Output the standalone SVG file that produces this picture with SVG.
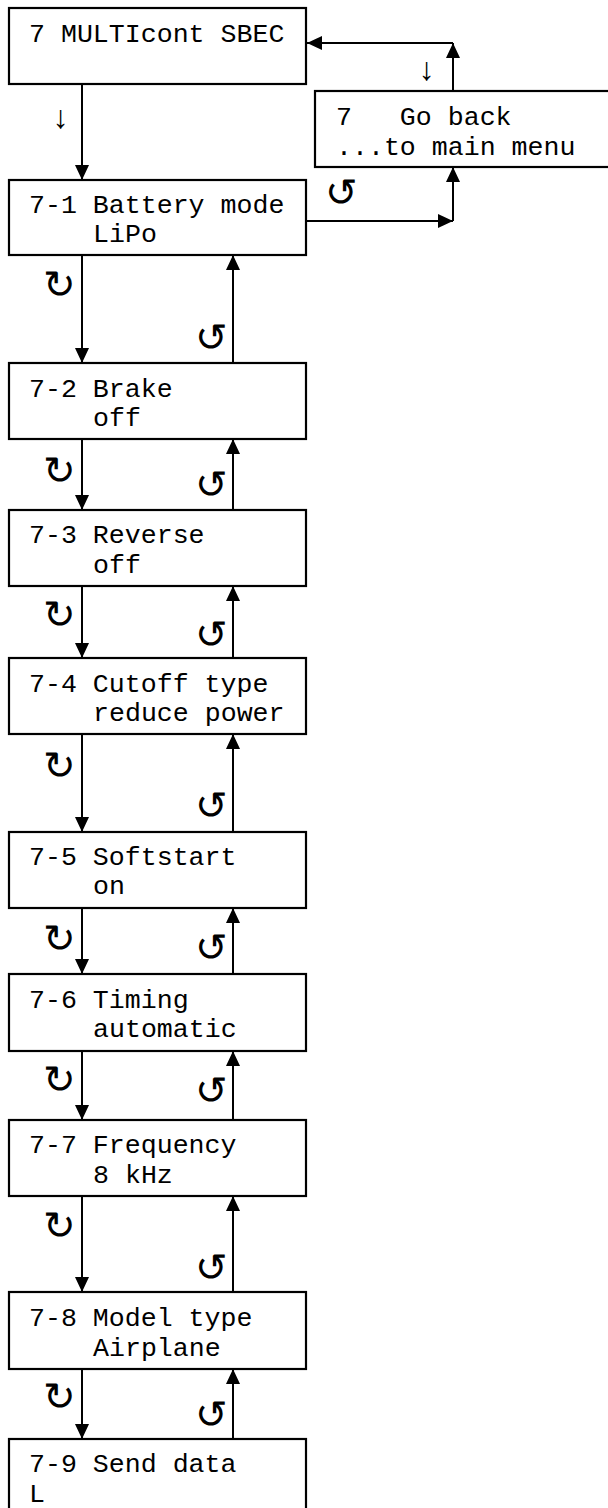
<svg xmlns="http://www.w3.org/2000/svg" width="608" height="1508" viewBox="0 0 608 1508">
<style>
.box{fill:#fff;stroke:#000;stroke-width:2.2}
.t{font-family:"Liberation Mono","Courier New",monospace;font-size:26.6px;fill:#000}
.c{stroke:#000;stroke-width:2;fill:none}
.sym{font-family:"DejaVu Sans",sans-serif;font-size:39px;font-weight:200;fill:#000}
.dn{font-family:"Liberation Mono","DejaVu Sans Mono",monospace;font-size:32px;fill:#000}
</style>
<defs>
<marker id="ah" markerUnits="userSpaceOnUse" markerWidth="16" markerHeight="16" refX="15" refY="7" orient="auto">
<path d="M0,0 L15,7 L0,14 z" fill="#000"/>
</marker>
</defs>
<rect width="608" height="1508" fill="#fff"/>
<g id="connectors">
<line class="c" x1="82" y1="84" x2="82" y2="180" marker-end="url(#ah)"/>
<line class="c" x1="453" y1="91" x2="453" y2="43" marker-end="url(#ah)"/>
<line class="c" x1="453" y1="43" x2="307" y2="43" marker-end="url(#ah)"/>
<line class="c" x1="306" y1="221" x2="453" y2="221" marker-end="url(#ah)"/>
<line class="c" x1="453" y1="221" x2="453" y2="167" marker-end="url(#ah)"/>
<line class="c" x1="82" y1="255" x2="82" y2="363" marker-end="url(#ah)"/>
<line class="c" x1="233" y1="363" x2="233" y2="255" marker-end="url(#ah)"/>
<line class="c" x1="82" y1="439" x2="82" y2="510" marker-end="url(#ah)"/>
<line class="c" x1="233" y1="510" x2="233" y2="439" marker-end="url(#ah)"/>
<line class="c" x1="82" y1="586" x2="82" y2="658" marker-end="url(#ah)"/>
<line class="c" x1="233" y1="658" x2="233" y2="586" marker-end="url(#ah)"/>
<line class="c" x1="82" y1="734" x2="82" y2="832" marker-end="url(#ah)"/>
<line class="c" x1="233" y1="832" x2="233" y2="734" marker-end="url(#ah)"/>
<line class="c" x1="82" y1="908" x2="82" y2="974" marker-end="url(#ah)"/>
<line class="c" x1="233" y1="974" x2="233" y2="908" marker-end="url(#ah)"/>
<line class="c" x1="82" y1="1051" x2="82" y2="1120" marker-end="url(#ah)"/>
<line class="c" x1="233" y1="1120" x2="233" y2="1051" marker-end="url(#ah)"/>
<line class="c" x1="82" y1="1196" x2="82" y2="1292" marker-end="url(#ah)"/>
<line class="c" x1="233" y1="1292" x2="233" y2="1196" marker-end="url(#ah)"/>
<line class="c" x1="82" y1="1369" x2="82" y2="1439" marker-end="url(#ah)"/>
<line class="c" x1="233" y1="1439" x2="233" y2="1369" marker-end="url(#ah)"/>
<text class="dn" x="51" y="128">↓</text>
<text class="dn" x="417" y="80">↓</text>
<text class="sym" x="325" y="206">↺</text>
<text class="sym" x="43" y="298">↻</text>
<text class="sym" x="195" y="351">↺</text>
<text class="sym" x="43" y="484">↻</text>
<text class="sym" x="195" y="498">↺</text>
<text class="sym" x="43" y="628">↻</text>
<text class="sym" x="195" y="648">↺</text>
<text class="sym" x="43" y="779">↻</text>
<text class="sym" x="195" y="819">↺</text>
<text class="sym" x="43" y="952">↻</text>
<text class="sym" x="195" y="961">↺</text>
<text class="sym" x="43" y="1093">↻</text>
<text class="sym" x="195" y="1104">↺</text>
<text class="sym" x="43" y="1239">↻</text>
<text class="sym" x="195" y="1281">↺</text>
<text class="sym" x="43" y="1410">↻</text>
<text class="sym" x="195" y="1428">↺</text>
</g>
<g id="n0"><rect class="box" x="9" y="8" width="297" height="76"/><text class="t" x="29" y="42">7 MULTIcont SBEC</text></g>
<g id="nback"><rect class="box" x="315" y="91" width="300" height="76"/><text class="t" x="336" y="125" xml:space="preserve">7   Go back</text><text class="t" x="336" y="155">...to main menu</text></g>
<g id="n1"><rect class="box" x="9" y="180" width="297" height="75"/><text class="t" x="29" y="213">7-1 Battery mode</text><text class="t" x="93" y="242">LiPo</text></g>
<g id="n2"><rect class="box" x="9" y="363" width="297" height="76"/><text class="t" x="29" y="397">7-2 Brake</text><text class="t" x="93" y="426">off</text></g>
<g id="n3"><rect class="box" x="9" y="510" width="297" height="76"/><text class="t" x="29" y="543">7-3 Reverse</text><text class="t" x="93" y="573">off</text></g>
<g id="n4"><rect class="box" x="9" y="658" width="297" height="76"/><text class="t" x="29" y="692">7-4 Cutoff type</text><text class="t" x="93" y="721">reduce power</text></g>
<g id="n5"><rect class="box" x="9" y="832" width="297" height="76"/><text class="t" x="29" y="865">7-5 Softstart</text><text class="t" x="93" y="894">on</text></g>
<g id="n6"><rect class="box" x="9" y="974" width="297" height="77"/><text class="t" x="29" y="1008">7-6 Timing</text><text class="t" x="93" y="1037">automatic</text></g>
<g id="n7"><rect class="box" x="9" y="1120" width="297" height="76"/><text class="t" x="29" y="1153">7-7 Frequency</text><text class="t" x="93" y="1183">8 kHz</text></g>
<g id="n8"><rect class="box" x="9" y="1292" width="297" height="77"/><text class="t" x="29" y="1326">7-8 Model type</text><text class="t" x="93" y="1356">Airplane</text></g>
<g id="n9"><rect class="box" x="9" y="1439" width="297" height="90"/><text class="t" x="29" y="1472">7-9 Send data</text><text class="t" x="29" y="1502">L</text></g>
</svg>
